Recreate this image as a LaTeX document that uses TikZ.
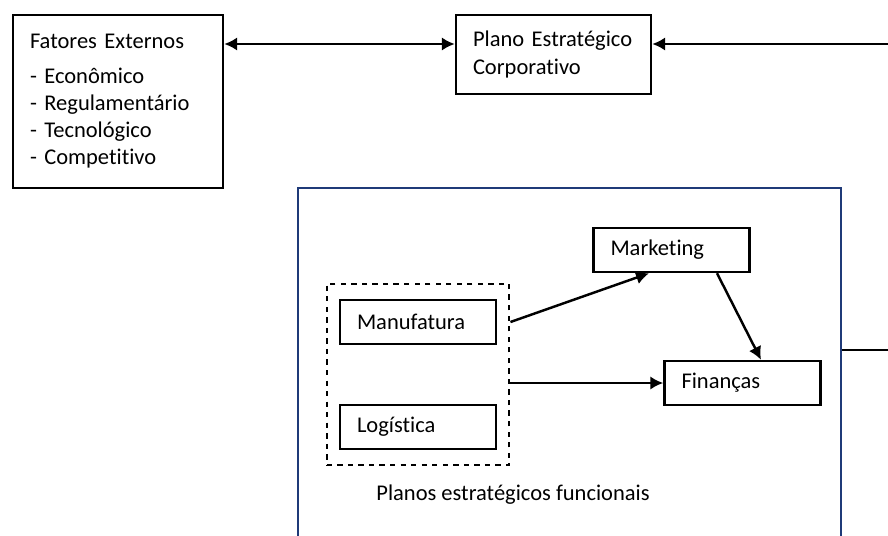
\documentclass[tikz,border=0pt]{standalone}
\usepackage{fontspec}
\setmainfont{Carlito}[Ligatures=NoCommon]
\usepackage{tikz}
\usetikzlibrary{arrows.meta,positioning,fit,calc}
\definecolor{planonavy}{HTML}{1F3A78}
\definecolor{planoink}{HTML}{000000}

\begin{document}
\begin{tikzpicture}[
    font=\fontsize{12.8}{15.5}\selectfont,
    caixa/.style={draw=planoink, fill=white, align=left, anchor=center,
                  inner xsep=0.34cm, inner ysep=0pt, line width=1.4pt},
    funcao/.style={caixa, text width=2.44cm, minimum height=0.88cm},
    grupo/.style={draw=planoink, dashed, line width=1.4pt, inner xsep=0.24cm, inner ysep=0.3cm},
    painel/.style={draw=planonavy, line width=1.3pt, minimum width=10.86cm,
                   minimum height=7.44cm, inner sep=0pt},
    arrow/.style={-{Latex[length=2.6mm,width=2.7mm]}, line width=1.4pt, draw=planoink}
]
\useasboundingbox (0,0) rectangle (17.76,10.7);
\clip (0,0) rectangle (17.76,10.7);

% parte de cima
\node[caixa, text width=3.52cm, minimum height=3.46cm] (fatores) at (2.36,8.67)
  {Fatores Externos\\[4pt]- Econômico\\- Regulamentário\\- Tecnológico\\- Competitivo};
\node[caixa, text width=3.22cm, minimum height=1.58cm] (plano) at (11.07,9.61)
  {Plano Estratégico\\Corporativo};

% planos funcionais
\node[painel] (painel) at (11.39,3.22) {};
\node[funcao] (marketing) at (13.43,5.70) {Marketing};
\node[funcao] (manufatura) at (8.36,4.26) {Manufatura};
\node[funcao] (logistica) at (8.36,2.16) {Logística};
\node[funcao] (financas) at (14.85,3.04) {Finanças};
\node[grupo, fit=(manufatura)(logistica)] (funcionais) {};
\node (rotulo) at (10.26,0.80) {Planos estratégicos funcionais};

\coordinate (topo) at (0,9.82);
\coordinate (direita) at (17.76,9.82);
\coordinate (saida) at (17.76,3.70);

\draw[arrow, {Latex[length=2.6mm,width=2.7mm]}-{Latex[length=2.6mm,width=2.7mm]}]
  (fatores.east |- topo) -- (plano.west |- topo);
\draw[arrow] (direita) -- (plano.east |- direita);
\draw[line width=1.4pt] (painel.east |- saida) -- (saida);

\draw[arrow] (funcionais.east |- manufatura) -- ([xshift=-0.45cm]marketing.south);
\draw[arrow] (funcionais.east |- financas) -- (financas.west);
\draw[arrow] ([xshift=0.91cm]marketing.south) -- ([xshift=0.37cm]financas.north);
\end{tikzpicture}
\end{document}
